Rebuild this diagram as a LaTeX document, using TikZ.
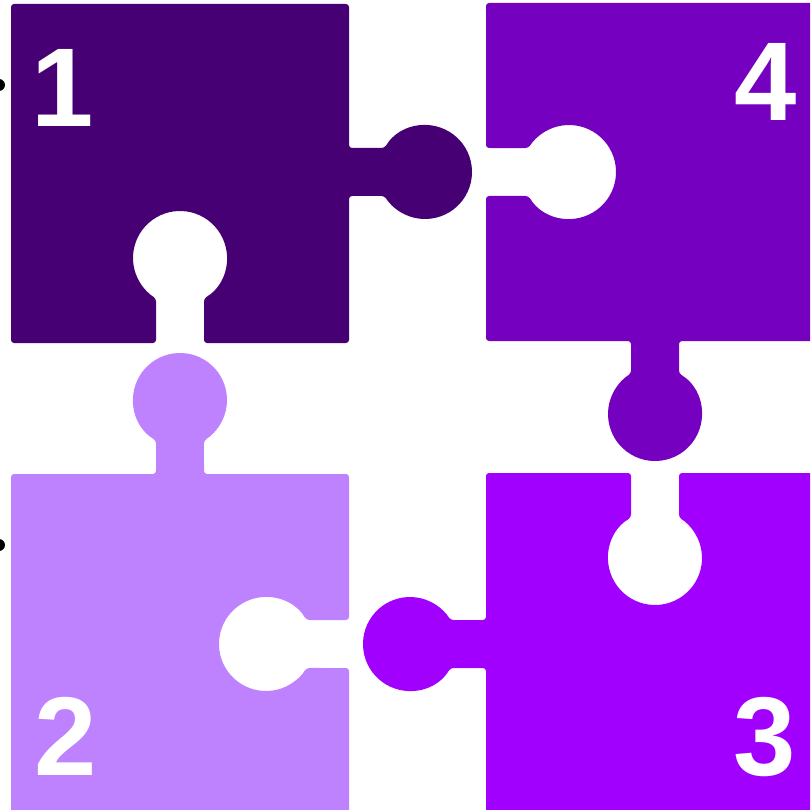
\documentclass[tikz,border=0pt]{standalone}
\usepackage{fontspec}
\setmainfont{Liberation Sans}
\definecolor{pieceone}{HTML}{460073}
\definecolor{piecefour}{HTML}{7500C0}
\definecolor{piecethree}{HTML}{A100FF}
\definecolor{piecetwo}{HTML}{BE82FF}

\begin{document}
\begin{tikzpicture}[x=1pt, y=-1pt,
  piece/.style={rounded corners=3pt},
  num/.style={text=white, inner sep=0pt, anchor=base,
    font=\fontsize{112}{112}\selectfont\bfseries}]
  \useasboundingbox (0,0) rectangle (810,810);
  \clip (0,0) rectangle (810,810);
  % bullets cut by the left edge
  \fill[black] (-1,85) circle[radius=6] (-1,545) circle[radius=6];
  % piece 1: tab right, notch below
  \fill[pieceone, piece] (11,4) -- (349,4) -- (349,148) -- (384.6,148)
    arc[start angle=210.7, end angle=509.3, radius=47] -- (349,196)
    -- (349,343) -- (204,343) -- (204,298.4)
    arc[start angle=59.3, end angle=-239.3, radius=47] -- (156,343)
    -- (11,343) -- cycle;
  % piece 4: notch left, tab below
  \fill[piecefour, piece] (486,3) -- (830,3) -- (830,341) -- (679,341)
    -- (679,373.6) arc[start angle=-59.3, end angle=239.3, radius=47]
    -- (631,341) -- (486,341) -- (486,196) -- (528.6,196)
    arc[start angle=149.3, end angle=-149.3, radius=47] -- (486,148)
    -- cycle;
  % piece 2: tab above, notch right
  \fill[piecetwo, piece] (11,474) -- (156,474) -- (156,440.4)
    arc[start angle=120.7, end angle=419.3, radius=47] -- (204,474)
    -- (349,474) -- (349,620) -- (306.4,620)
    arc[start angle=-30.7, end angle=-329.3, radius=47] -- (349,668)
    -- (349,830) -- (11,830) -- cycle;
  % piece 3: notch above, tab left
  \fill[piecethree, piece] (486,473) -- (631,473) -- (631,517.6)
    arc[start angle=239.3, end angle=-59.3, radius=47] -- (679,473)
    -- (830,473) -- (830,830) -- (486,830) -- (486,668) -- (450.4,668)
    arc[start angle=30.7, end angle=329.3, radius=47] -- (486,620)
    -- cycle;
  \node[num] (n1) at (63,127) {1};
  \node[num] (n4) at (766,121) {4};
  \node[num] (n2) at (66,775) {2};
  \node[num] (n3) at (765,775) {3};
\end{tikzpicture}
\end{document}
